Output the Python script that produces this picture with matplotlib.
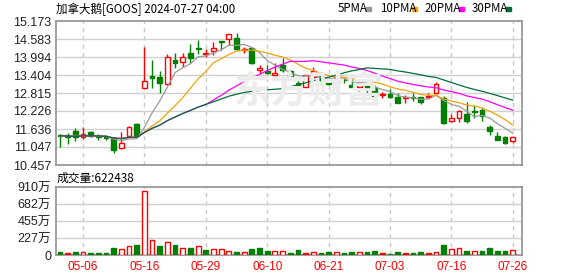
import matplotlib
matplotlib.use('Agg')
import matplotlib.pyplot as plt
import numpy as np
import pandas as pd

# trading days shown (05-01 .. 07-26)
dates = ['05-01', '05-02', '05-03', '05-06', '05-07', '05-08', '05-09', '05-10', '05-13', '05-14',
         '05-15', '05-16', '05-17', '05-20', '05-21', '05-22', '05-23', '05-24', '05-28', '05-29',
         '05-30', '05-31', '06-03', '06-04', '06-05', '06-06', '06-07', '06-10', '06-11', '06-12',
         '06-13', '06-14', '06-17', '06-18', '06-20', '06-21', '06-24', '06-25', '06-26', '06-27',
         '06-28', '07-01', '07-02', '07-03', '07-05', '07-08', '07-09', '07-10', '07-11', '07-12',
         '07-15', '07-16', '07-17', '07-18', '07-19', '07-22', '07-23', '07-24', '07-25', '07-26']

opens = [11.43, 11.43, 11.57, 11.39, 11.54, 11.41, 11.39, 11.33, 11.00, 11.42,
         11.80, 12.99, 13.37, 13.33, 13.10, 13.90, 13.82, 14.13, 14.29, 14.09,
         14.20, 14.52, 14.57, 14.61, 14.21, 14.28, 13.58, 13.53, 13.40, 13.73,
         13.54, 13.15, 13.02, 13.35, 13.40, 13.21, 13.10, 13.26, 13.08, 13.02,
         13.08, 12.97, 12.75, 12.77, 12.69, 12.65, 12.69, 12.67, 12.70, 12.83,
         12.66, 11.90, 11.99, 12.13, 12.22, 12.26, 11.71, 11.41, 11.36, 11.25]
highs = [11.46, 11.50, 11.67, 11.70, 11.56, 11.47, 11.44, 11.35, 11.54, 11.73,
         11.82, 14.33, 13.90, 13.54, 14.08, 14.12, 14.13, 14.41, 14.55, 14.27,
         14.50, 14.53, 14.74, 14.77, 14.32, 14.30, 13.73, 13.73, 13.81, 13.97,
         13.56, 13.35, 13.41, 13.68, 13.51, 13.35, 13.33, 13.30, 13.30, 13.24,
         13.15, 13.08, 12.86, 12.94, 12.82, 12.75, 12.82, 12.70, 12.80, 13.17,
         12.72, 12.12, 12.26, 12.53, 12.42, 12.31, 11.77, 11.55, 11.41, 11.36]
lows = [11.06, 11.14, 11.24, 11.31, 11.37, 11.28, 11.27, 10.86, 10.99, 11.40,
        11.40, 12.98, 12.98, 12.83, 13.09, 13.62, 13.68, 13.79, 14.08, 14.00,
        14.06, 14.22, 14.39, 14.22, 14.12, 13.76, 13.46, 13.44, 13.39, 13.51,
        13.24, 12.97, 13.01, 13.30, 13.08, 13.08, 13.09, 13.13, 13.01, 12.89,
        12.83, 12.52, 12.64, 12.66, 12.49, 12.50, 12.56, 12.45, 12.64, 12.77,
        11.80, 11.86, 11.87, 11.84, 11.99, 11.91, 11.44, 11.27, 11.15, 11.19]
closes = [11.42, 11.39, 11.37, 11.46, 11.42, 11.39, 11.33, 10.95, 11.17, 11.71,
          11.41, 13.21, 13.32, 13.13, 13.98, 13.79, 14.00, 13.97, 14.26, 14.13,
          14.28, 14.49, 14.74, 14.24, 14.27, 13.81, 13.62, 13.46, 13.48, 13.57,
          13.33, 13.08, 13.40, 13.55, 13.24, 13.11, 13.30, 13.23, 13.02, 13.15,
          12.97, 12.72, 12.79, 12.68, 12.50, 12.69, 12.64, 12.53, 12.73, 13.10,
          11.84, 12.01, 12.23, 11.91, 12.19, 12.07, 11.58, 11.28, 11.19, 11.36]

# volume in 万 shares
volumes = [40, 27, 40, 36, 27, 27, 27, 93, 75, 115,
           133, 852, 200, 120, 169, 133, 89, 93, 115, 67,
           75, 84, 53, 40, 36, 80, 93, 53, 49, 49,
           27, 67, 22, 36, 27, 40, 36, 27, 40, 36,
           40, 53, 22, 13, 40, 22, 27, 40, 22, 36,
           129, 75, 89, 53, 49, 53, 89, 53, 53, 62.2438]
# r = up (hollow red), R = filled red, g = down (green)
vol_kind = ['g', 'R', 'g', 'r', 'g', 'g', 'g', 'g', 'r', 'r',
            'g', 'r', 'r', 'g', 'r', 'g', 'r', 'g', 'r', 'g',
            'r', 'r', 'r', 'g', 'r', 'g', 'g', 'g', 'r', 'r',
            'g', 'g', 'R', 'r', 'g', 'g', 'r', 'g', 'g', 'r',
            'g', 'g', 'R', 'g', 'g', 'R', 'g', 'g', 'R', 'r',
            'g', 'r', 'r', 'g', 'r', 'g', 'g', 'g', 'g', 'r']

tick_dates = ['05-06', '05-16', '05-29', '06-10', '06-21', '07-03', '07-16', '07-26']
price_ticks = [10.457, 11.047, 11.636, 12.226, 12.815, 13.404, 13.994, 14.583, 15.173]
vol_ticks = [0, 227.5, 455, 682.5, 910]
vol_labels = ['0', '227万', '455万', '682万', '910万']
ma_periods = [5, 10, 20, 30]
ma_names = ['5PMA', '10PMA', '20PMA', '30PMA']
ma_colors = ['#9a9a9a', '#f0a30a', '#ff00ff', '#00703c']

RED = '#ff0000'
GREEN = '#008000'
GRID = '#d0d0d0'
FRAME = '#999999'
cjk = ['Noto Sans CJK SC', 'DejaVu Sans']
num = ['Liberation Sans', 'Noto Sans CJK SC']

fig = plt.figure(figsize=(5.78, 2.76), dpi=100)
ax = fig.add_axes([56/578, 1-165/276, (522-56)/578, (165-21)/276])
axv = fig.add_axes([56/578, 1-255/276, (522-56)/578, (255-187)/276])

x = np.arange(len(dates))
o = np.array(opens); c = np.array(closes)
up = c >= o
cols = [RED if u else GREEN for u in up]
faces = ['white' if u else GREEN for u in up]

ax.vlines(x, lows, highs, colors=cols, lw=1, zorder=2)
body = np.maximum(np.abs(c - o), 0.012)
ax.bar(x, body, bottom=np.minimum(o, c), width=0.62, color=faces,
       edgecolor=cols, linewidth=1, zorder=3)

s = pd.Series(closes)
for n, col in zip(ma_periods, ma_colors):
    ax.plot(x, s.rolling(n, min_periods=1).mean(), color=col, lw=0.9, zorder=4)

# volume
vcols = [RED if k in 'rR' else GREEN for k in vol_kind]
vfaces = ['white' if k == 'r' else (RED if k == 'R' else GREEN) for k in vol_kind]
axv.bar(x, volumes, width=0.62, color=vfaces, edgecolor=vcols, linewidth=1, zorder=3)

tick_pos = [dates.index(d) for d in tick_dates]
for a in (ax, axv):
    a.set_xlim(-0.52, 60.2)
    for p in tick_pos:
        a.axvline(p, color='#c8c8c8', lw=1, ls=(0, (3, 3)), zorder=0)
    for sp in a.spines.values():
        sp.set_color(FRAME)
        sp.set_linewidth(1.3)
    a.tick_params(length=0)

ax.set_ylim(price_ticks[0], price_ticks[-1])
ax.set_yticks(price_ticks)
ax.set_yticklabels(['%.3f' % v for v in price_ticks], fontsize=9, family=num, color='#222222')
for v in price_ticks[1:-1]:
    ax.axhline(v, color=GRID, lw=1, zorder=0)
ax.set_xticks([])

axv.set_ylim(0, 910)
axv.set_yticks(vol_ticks)
axv.set_yticklabels(vol_labels, fontsize=9, family=num, color='#222222')
for v in vol_ticks[1:-1]:
    axv.axhline(v, color=GRID, lw=1, zorder=0)
axv.set_xticks(tick_pos)
axv.set_xticklabels(tick_dates, fontsize=8.5, family=num, color=RED)
axv.tick_params(axis='x', pad=4)

# watermark
fig.text(0.535, 0.665, '东方财富', fontsize=27, color='#ececec', family=cjk,
         fontweight='bold', ha='center', va='center', zorder=0, style='italic')

# title + legend
fig.text(56/578, 1-9/276, '加拿大鹅[GOOS] 2024-07-27 04:00', fontsize=8.3, family=cjk,
         va='center', ha='left')
leg_x = [338, 380, 425, 472]
sq_x = [366, 412, 459, 506]
for name, col, lx, qx in zip(ma_names, ma_colors, leg_x, sq_x):
    fig.text(lx/578, 1-9/276, name, fontsize=8.3, family=cjk, va='center', ha='left')
    fig.patches.append(plt.Rectangle((qx/578, 1-10.5/276), 5/578, 3.5/276, color=col,
                                     transform=fig.transFigure, figure=fig))

fig.text(57/578, 1-178/276, '成交量:%d' % round(volumes[-1]*1e4), fontsize=8.5,
         family=cjk, va='center', ha='left')

fig.savefig('out.png', dpi=100)
